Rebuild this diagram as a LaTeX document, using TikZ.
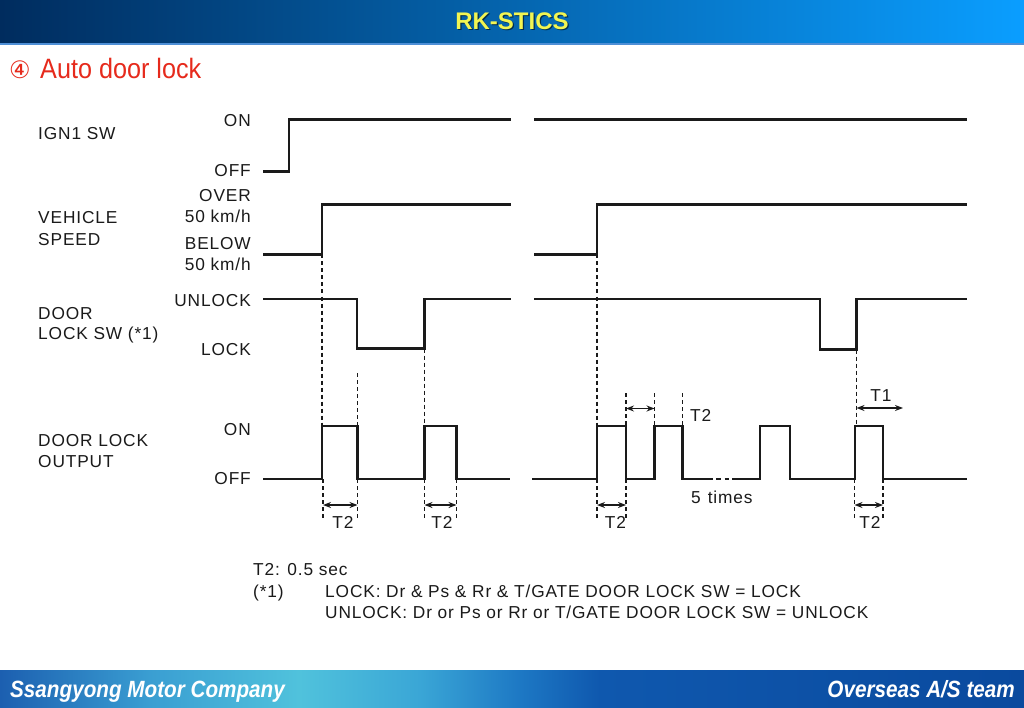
\documentclass[tikz,border=0pt]{standalone}
\usepackage{fontspec}
\setmainfont{Liberation Sans}
\newfontfamily\lblfont[LetterSpace=5]{Liberation Sans}
\newfontfamily\circfont{DejaVu Sans}
\newfontfamily\ttlfont[FakeStretch=0.9]{Liberation Sans}
\newfontfamily\footfont[FakeStretch=0.88]{Liberation Sans}
\usetikzlibrary{arrows.meta}
\definecolor{wave}{HTML}{1A1A1A}
\definecolor{txt}{HTML}{1A1A1A}
\definecolor{ttlred}{HTML}{E62A1C}
\definecolor{hdrL}{HTML}{002C5E}
\definecolor{hdrR}{HTML}{0A9EFF}
\definecolor{hdrLine}{HTML}{4E8FD6}
\definecolor{titleyel}{HTML}{F2F552}
\definecolor{fA}{HTML}{1C5FB0}
\definecolor{fB}{HTML}{3A9ED2}
\definecolor{fC}{HTML}{50C2DC}
\definecolor{fD}{HTML}{3AA6D6}
\definecolor{fE}{HTML}{1D78C4}
\definecolor{fF}{HTML}{0F58AE}
\definecolor{fG}{HTML}{0A4A9E}
\pgfdeclarehorizontalshading{footshade}{100bp}{color(0bp)=(fA); color(25bp)=(fA); color(32.3bp)=(fB); color(39.6bp)=(fC); color(45.5bp)=(fD); color(50.4bp)=(fE); color(54.3bp)=(fF); color(75bp)=(fG); color(100bp)=(fG)}
\tikzset{
  wv/.style={line width=2.2pt, color=wave, line join=miter},
  dsh/.style={line width=1.8pt, color=wave, dash pattern=on 4pt off 3pt},
  arr/.style={line width=1.4pt, color=wave, {Stealth[length=8pt,width=6pt]}-{Stealth[length=8pt,width=6pt]}},
  lbl/.style={font=\lblfont\fontsize{17.3}{20}\selectfont, text=txt, inner sep=0pt},
  lw/.style={lbl, anchor=base west},
  le/.style={lbl, anchor=base east},
  lc/.style={lbl, anchor=base},
}
\begin{document}
\begin{tikzpicture}[x=1pt,y=-1pt]
\useasboundingbox (0,0) rectangle (1024,708);
\fill[white] (0,0) rectangle (1024,708);
% header
\fill[left color=hdrL, right color=hdrR] (0,0) rectangle (1024,43);
\fill[hdrLine] (0,43) rectangle (1024,45);
\node[text=black, opacity=0.55, font=\bfseries\fontsize{24}{28}\selectfont, inner sep=0pt] (titleshadow) at (513.2,22.2) {RK-STICS};
\node[text=titleyel, font=\bfseries\fontsize{24}{28}\selectfont, inner sep=0pt] (title) at (512,21) {RK-STICS};
% section title
\node[anchor=base west, text=ttlred, inner sep=0pt, font=\circfont\fontsize{24}{28}\selectfont] (num) at (9,79) {④};
\node[anchor=base west, text=ttlred, inner sep=0pt, font=\ttlfont\fontsize{28}{32}\selectfont] (sec) at (40,79) {Auto door lock};
% footer
\fill[shading=footshade] (0,670) rectangle (1024,708);
\node[anchor=base west, text=white, inner sep=0pt, font=\footfont\bfseries\itshape\fontsize{23.5}{28}\selectfont] (footL) at (10,697) {Ssangyong Motor Company};
\node[anchor=base east, text=white, inner sep=0pt, font=\footfont\bfseries\itshape\fontsize{23.5}{28}\selectfont] (footR) at (1015,697) {Overseas A/S team};
% left labels
\node[lw] (ign) at (38,139.5) {IGN1 SW};
\node[lw] (veh1) at (38,224) {VEHICLE};
\node[lw] (veh2) at (38,246) {SPEED};
\node[lw] (dsw1) at (38,319.5) {DOOR};
\node[lw] (dsw2) at (38,339.5) {LOCK SW (*1)};
\node[lw] (dlo1) at (38,446) {DOOR LOCK};
\node[lw] (dlo2) at (38,467) {OUTPUT};
% state labels
\node[le] (s1) at (251,127) {ON};
\node[le] (s2) at (251,176.7) {OFF};
\node[le] (s3) at (251,202) {OVER};
\node[le] (s4) at (251,223) {50 km/h};
\node[le] (s5) at (251,250) {BELOW};
\node[le] (s6) at (251,271) {50 km/h};
\node[le] (s7) at (251,306) {UNLOCK};
\node[le] (s8) at (251,355) {LOCK};
\node[le] (s9) at (251,435) {ON};
\node[le] (s10) at (251,484.5) {OFF};
% waveforms
\draw[wv] (263,171.5) -- (289,171.5) -- (289,119.5) -- (511,119.5);
\draw[wv] (534,119.5) -- (967,119.5);
\draw[wv] (263,254.5) -- (322,254.5) -- (322,204.5) -- (511,204.5);
\draw[wv] (534,254.5) -- (597,254.5) -- (597,204.5) -- (967,204.5);
\draw[wv] (263,299) -- (357,299) -- (357,348.5) -- (424.5,348.5) -- (424.5,299) -- (511,299);
\draw[wv] (534,299) -- (820,299) -- (820,349.5) -- (856.5,349.5) -- (856.5,299) -- (967,299);
\draw[wv] (263,479) -- (322,479) -- (322,426) -- (357.5,426) -- (357.5,479) -- (424.5,479) -- (424.5,426) -- (456.5,426) -- (456.5,479) -- (510,479);
\draw[wv] (532,479) -- (597,479) -- (597,426) -- (626,426) -- (626,479) -- (654.5,479) -- (654.5,426) -- (682.5,426) -- (682.5,479) -- (713,479);
\draw[wv] (716,479) -- (721,479) (724.5,479) -- (729,479);
\draw[wv] (732,479) -- (760,479) -- (760,426) -- (790,426) -- (790,479) -- (855,479) -- (855,426) -- (883,426) -- (883,479) -- (967,479);
% dashed guides, left
\draw[dsh] (322,254.5) -- (322,426);
\draw[dsh] (323,479) -- (323,519);
\draw[dsh] (357.5,373) -- (357.5,426);
\draw[dsh] (357.5,479) -- (357.5,519);
\draw[dsh] (424.5,348.5) -- (424.5,426);
\draw[dsh] (424.5,479) -- (424.5,519);
\draw[dsh] (456.5,479) -- (456.5,519);
% dashed guides, right
\draw[dsh] (597,254.5) -- (597,426);
\draw[dsh] (597,479) -- (597,518);
\draw[dsh] (626,393) -- (626,426);
\draw[dsh] (626,479) -- (626,518);
\draw[dsh] (654.5,393) -- (654.5,426);
\draw[dsh] (682.5,393) -- (682.5,426);
\draw[dsh] (856.5,349.5) -- (856.5,426);
\draw[dsh] (854.5,479) -- (854.5,519);
\draw[dsh] (883,479) -- (883,519);
% arrows
\draw[arr] (323,505) -- (357.5,505);
\draw[arr] (424.5,505) -- (456.5,505);
\draw[arr] (597,505) -- (626,505);
\draw[arr] (626,408.5) -- (654.5,408.5);
\draw[arr] (854.5,505) -- (883,505);
\draw[arr] (856.5,408) -- (903,408);
% time labels
\node[lc] (t2a) at (343,528) {T2};
\node[lc] (t2b) at (442,528) {T2};
\node[lc] (t2c) at (615.5,528) {T2};
\node[lc] (t2d) at (870,528) {T2};
\node[lw] (t2e) at (690,421) {T2};
\node[lc] (t1) at (881,401) {T1};
\node[lw] (five) at (691,503) {5\hspace{7pt}times};
% notes
\node[lw] (n1) at (253,575.5) {T2: 0.5 sec};
\node[lw] (n2) at (253,597) {(*1)};
\node[lw] (n3) at (325,597) {LOCK: Dr \& Ps \& Rr \& T/GATE DOOR LOCK SW = LOCK};
\node[lw] (n4) at (325,618) {UNLOCK: Dr or Ps or Rr or T/GATE DOOR LOCK SW = UNLOCK};
\end{tikzpicture}
\end{document}
